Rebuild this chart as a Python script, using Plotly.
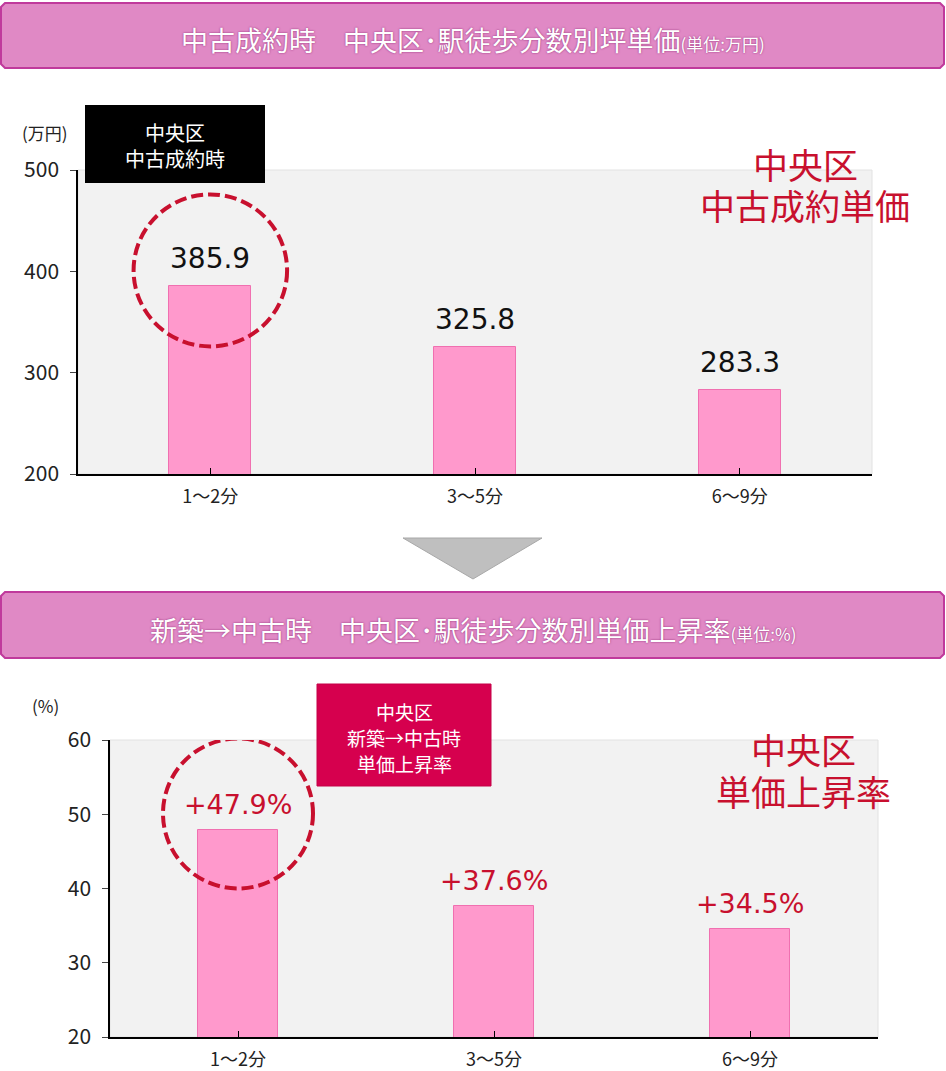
import plotly.graph_objects as go

W, H = 946, 1071

# data
categories = ["1～2分", "3～5分", "6～9分"]
price_values = [385.9, 325.8, 283.3]          # 中古成約時 坪単価 (万円)
rise_values = [47.9, 37.6, 34.5]              # 新築→中古時 単価上昇率 (%)
price_labels = ["385.9", "325.8", "283.3"]
rise_labels = ["+47.9%", "+37.6%", "+34.5%"]
price_ticks = [200, 300, 400, 500]
rise_ticks = [20, 30, 40, 50, 60]

title_top = "中古成約時　中央区･駅徒歩分数別坪単価"
title_top_unit = "(単位:万円)"
title_bot = "新築→中古時　中央区･駅徒歩分数別単価上昇率"
title_bot_unit = "(単位:%)"

JP = "Noto Sans CJK JP"
NUM = "DejaVu Sans"
RED = "#c8102e"
PINK = "#ff99cc"
PINK_EDGE = "#f070b0"


def px(x):
    return x / W


def py(y):
    return 1 - y / H


def rounded_rect(x0, y0, x1, y1, r=4):
    # path in paper coords from pixel box
    rx, ry = r / W, r / H
    a, b, c, d = px(x0), py(y1), px(x1), py(y0)
    return (f"M{a+rx},{b} L{c-rx},{b} L{c},{b+ry} L{c},{d-ry} L{c-rx},{d} "
            f"L{a+rx},{d} L{a},{d-ry} L{a},{b+ry} Z")


def note(x, y, text, size, color, **kw):
    return dict(xref="paper", yref="paper", x=px(x), y=py(y), text=text,
                showarrow=False, xanchor="center", yanchor="middle",
                font=dict(family=JP, size=size, color=color, **kw))


def lines(x, ys, texts, size, color):
    # one annotation per line so the spacing matches the original
    return [note(x, y, t, size, color) for y, t in zip(ys, texts)]


fig = go.Figure()

fig.add_trace(go.Bar(x=[0, 1, 2], y=price_values, width=0.31,
                     marker=dict(color=PINK, line=dict(color=PINK_EDGE, width=1)),
                     xaxis="x", yaxis="y", hoverinfo="skip"))
fig.add_trace(go.Bar(x=[0, 1, 2], y=rise_values, width=0.31,
                     marker=dict(color=PINK, line=dict(color=PINK_EDGE, width=1)),
                     xaxis="x2", yaxis="y2", hoverinfo="skip"))

cat_axis = dict(tickmode="array", tickvals=[0, 1, 2], ticktext=categories,
                range=[-0.5, 2.5], showgrid=False, zeroline=False, automargin=False,
                showline=True, linecolor="black", linewidth=2, tickson="boundaries",
                ticks="inside", ticklen=6, tickcolor="black", ticklabelstandoff=5,
                tickfont=dict(family=JP, size=18, color="#222"))
val_axis = dict(showgrid=False, zeroline=False, showline=True, automargin=False,
                linecolor="black", linewidth=1.5, ticks="outside", ticklen=6,
                ticklabelstandoff=7, tickfont=dict(family=JP, size=21, color="#222"))

fig.update_layout(
    template="none",
    width=W, height=H, margin=dict(l=0, r=0, t=0, b=0, autoexpand=False),
    paper_bgcolor="white", plot_bgcolor="#f2f2f2",
    showlegend=False, bargap=0,
    xaxis=dict(cat_axis, domain=[px(78), px(872)], anchor="y"),
    yaxis=dict(val_axis, domain=[py(474), py(170)], range=[200, 500],
               tickvals=price_ticks, anchor="x"),
    xaxis2=dict(cat_axis, domain=[px(110), px(878)], anchor="y2"),
    yaxis2=dict(val_axis, domain=[py(1037), py(740)], range=[20, 60],
                tickvals=rise_ticks, anchor="x2"),
)

shapes = []
anns = []

# header bars
for (y0, y1) in [(3, 68), (592, 658)]:
    shapes.append(dict(type="path", xref="paper", yref="paper",
                       path=rounded_rect(1, y0, 944, y1),
                       fillcolor="#e089c5", line=dict(color="#c03a9c", width=2)))

shadow = "0px 0px 2px #8b2470"
anns.append(note(473, 40, title_top + f"<span style='font-size:17px'>{title_top_unit}</span>",
                 27, "white", shadow=shadow))
anns.append(note(473, 629, title_bot + f"<span style='font-size:17px'>{title_bot_unit}</span>",
                 27, "white", shadow=shadow))

# arrow between charts
shapes.append(dict(type="path", xref="paper", yref="paper",
                   path=f"M{px(403)},{py(538)} L{px(542)},{py(538)} L{px(473)},{py(579)} Z",
                   fillcolor="#bfbfbf", line=dict(color="#a8a8a8", width=1)))

# light plot borders
for xd, yd in [("x", "y"), ("x2", "y2")]:
    shapes.append(dict(type="rect", xref=f"{xd} domain", yref=f"{yd} domain",
                       x0=0, x1=1, y0=0, y1=1, line=dict(color="#e2e2e2", width=1),
                       layer="below"))

# dashed circles around the first bar
shapes.append(dict(type="circle", xref="x", yref="y",
                   x0=-0.29, x1=0.29, y0=price_values[0] - 60, y1=price_values[0] + 90,
                   line=dict(color=RED, width=4, dash="12px,5px")))
shapes.append(dict(type="circle", xref="x2", yref="y2",
                   x0=-0.293, x1=0.293, y0=rise_values[0] - 7.9, y1=rise_values[0] + 12.3,
                   line=dict(color=RED, width=4, dash="12px,5px")))

# tag boxes
shapes.append(dict(type="rect", xref="paper", yref="paper",
                   x0=px(85), x1=px(265), y0=py(183), y1=py(105),
                   fillcolor="black", line=dict(width=0)))
anns += lines(175, [132, 158], ["中央区", "中古成約時"], 20, "white")
shapes.append(dict(type="rect", xref="paper", yref="paper",
                   x0=px(317), x1=px(491), y0=py(786), y1=py(684),
                   fillcolor="#d6004e", line=dict(color="#c40046", width=1)))
anns += lines(404, [711, 737, 763], ["中央区", "新築→中古時", "単価上昇率"], 19, "white")

# big red captions
anns += lines(805, [163, 205], ["中央区", "中古成約単価"], 35, RED)
anns += lines(803, [748, 790], ["中央区", "単価上昇率"], 35, RED)

# unit labels
anns.append(note(45, 132, "(万円)", 17, "#222"))
anns.append(note(45, 705, "(%)", 17, "#222"))

# value labels
for i, (v, t) in enumerate(zip(price_values, price_labels)):
    anns.append(dict(xref="x", yref="y", x=i, y=v, text=t, showarrow=False,
                     xanchor="center", yanchor="bottom", yshift=9,
                     font=dict(family=NUM, size=28, color="#111")))
for i, (v, t) in enumerate(zip(rise_values, rise_labels)):
    anns.append(dict(xref="x2", yref="y2", x=i, y=v, text=t, showarrow=False,
                     xanchor="center", yanchor="bottom", yshift=8,
                     font=dict(family=NUM, size=27, color=RED)))

fig.update_layout(shapes=shapes, annotations=anns)

fig.write_html("out.html", config={"displayModeBar": False},
               post_script="document.body.style.margin='0';")
